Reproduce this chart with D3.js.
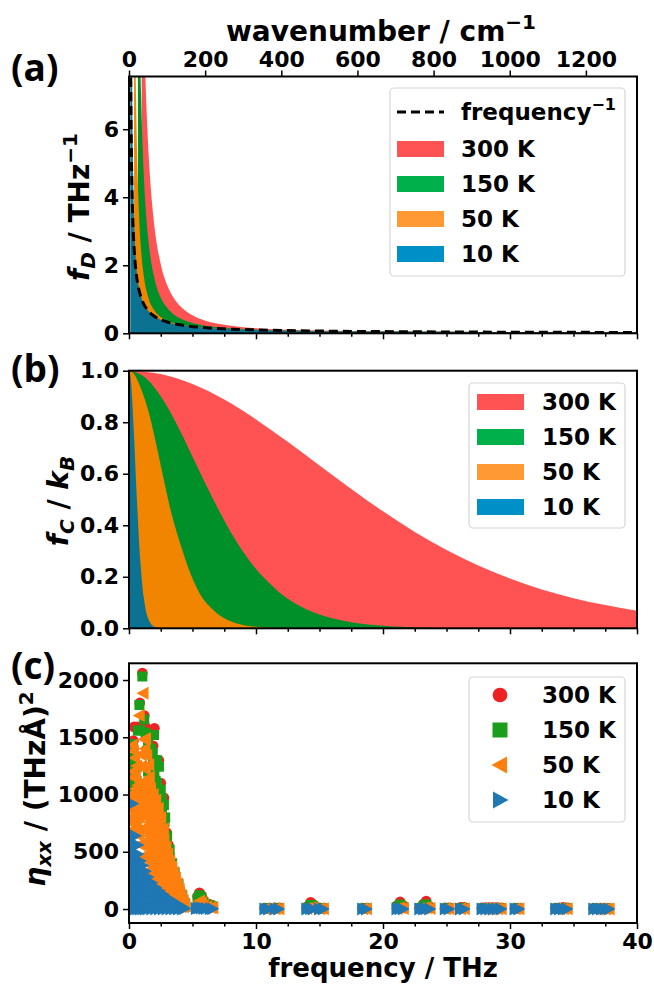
<!DOCTYPE html>
<html>
<head>
<meta charset="utf-8">
<script src="https://cdn.jsdelivr.net/npm/d3@7/dist/d3.min.js"></script>
<style>
body { margin: 0; background: #fff; }
svg { display: block; font-family: "DejaVu Sans", sans-serif; font-weight: bold; }
.axis path, .axis line { stroke: #000; }
.axis text { font-family: "DejaVu Sans", sans-serif; font-weight: bold; fill: #000; }
.panel-tag { font-family: "Open Sans", sans-serif; font-weight: 700; font-size: 37px; }
</style>
</head>
<body>
<div id="chart"></div>
<script>
// temperatures (legend order)
var temps = ["300 K", "150 K", "50 K", "10 K"];

// (a) f_D (THz, THz^-1)
var freqA300 = [1.0, 1.2, 1.3, 1.4, 1.6, 1.8, 2.0, 2.5, 3.0, 3.5, 4, 5, 6, 7, 8, 10, 12.5, 15, 20, 25, 30, 35, 40];
var fD300 = [12.5, 8.71, 7.42, 6.40, 4.91, 3.88, 3.15, 2.03, 1.42, 1.05, 0.81, 0.53, 0.37, 0.28, 0.22, 0.15, 0.105, 0.080, 0.054, 0.042, 0.034, 0.029, 0.025];
var freqA150 = [0.7, 0.85, 0.95, 1.0, 1.2, 1.4, 1.6, 2.0, 2.5, 3.0, 3.5, 4, 5, 6, 7, 8, 10, 12.5, 15, 20, 30, 40];
var fD150 = [12.8, 8.70, 6.98, 6.30, 4.39, 3.24, 2.49, 1.62, 1.05, 0.75, 0.56, 0.44, 0.30, 0.22, 0.18, 0.146, 0.108, 0.083, 0.068, 0.050, 0.033, 0.025];
var freqA50 = [0.4, 0.5, 0.55, 0.6, 0.7, 0.8, 1.0, 1.2, 1.5, 2.0, 2.5, 3.0, 4.0, 5.0, 6, 8, 10, 15, 20, 30, 40];
var fD50 = [13.2, 8.49, 7.05, 5.95, 4.41, 3.41, 2.24, 1.60, 1.08, 0.67, 0.48, 0.37, 0.26, 0.20, 0.168, 0.125, 0.100, 0.067, 0.050, 0.033, 0.025];
var freqA10 = [0.1, 0.15, 0.2, 0.25, 0.3, 0.4, 0.5, 0.6, 0.8, 1.0, 1.5, 2, 3, 4, 6, 10, 20, 40];
var fD10 = [42.5, 19.3, 11.2, 7.45, 5.40, 3.36, 2.40, 1.87, 1.31, 1.02, 0.67, 0.50, 0.333, 0.25, 0.167, 0.10, 0.05, 0.025];
var freqInv = [0.12, 0.15, 0.2, 0.25, 0.3, 0.4, 0.5, 0.7, 1, 1.5, 2, 3, 4, 6, 10, 20, 40];
var fInv = [8.33, 6.67, 5.0, 4.0, 3.33, 2.5, 2.0, 1.43, 1.0, 0.667, 0.5, 0.333, 0.25, 0.167, 0.1, 0.05, 0.025];

// (b) f_C / k_B
var freqB300 = [0, 2.5, 5, 7.5, 10, 12.5, 15, 17.5, 20, 22.5, 25, 27.5, 30, 32.5, 35, 37.5, 40];
var fC300 = [1, 0.987, 0.948, 0.888, 0.811, 0.724, 0.632, 0.541, 0.454, 0.374, 0.304, 0.244, 0.193, 0.151, 0.117, 0.090, 0.068];
var freqB150 = [0, 1, 2, 3, 4, 5, 6, 7, 8, 9, 10, 11, 12, 13, 14, 16, 18, 20, 23, 26, 30, 40];
var fC150 = [1, 0.983, 0.935, 0.861, 0.769, 0.666, 0.563, 0.465, 0.374, 0.296, 0.230, 0.178, 0.133, 0.099, 0.073, 0.039, 0.020, 0.010, 0.0034, 0.0011, 0.0002, 0];
var freqB50 = [0, 0.4, 0.8, 1.25, 1.7, 2.1, 2.5, 2.9, 3.3, 3.75, 4.2, 4.6, 5, 5.4, 5.8, 6.25, 6.7, 7.5, 8.3, 10, 11.7, 13.3, 40];
var fC50 = [1, 0.987, 0.948, 0.888, 0.811, 0.724, 0.632, 0.541, 0.454, 0.374, 0.304, 0.244, 0.193, 0.151, 0.117, 0.090, 0.068, 0.039, 0.022, 0.006, 0.002, 0, 0];
var freqB10 = [0, 0.08, 0.17, 0.25, 0.33, 0.42, 0.5, 0.58, 0.67, 0.75, 0.83, 0.92, 1.0, 1.08, 1.17, 1.25, 1.33, 1.5, 1.67, 2.0, 2.33, 2.67, 40];
var fC10 = [1, 0.987, 0.948, 0.888, 0.811, 0.724, 0.632, 0.541, 0.454, 0.374, 0.304, 0.244, 0.193, 0.151, 0.117, 0.090, 0.068, 0.039, 0.022, 0.006, 0.002, 0, 0];

// (c) eta_xx scatter, [frequency, value] read from the cloud
var eta300 = [[0.35, 1470], [0.4, 1590], [0.7, 1590], [0.85, 1800], [1.05, 2060], [1.2, 1690], [1.3, 1590], [1.9, 1425], [2.0, 1578], [2.35, 1298], [2.5, 1100], [2.75, 972], [2.95, 668], [3.1, 560],
  [5.4, 110], [5.55, 142], [5.7, 118], [5.85, 80], [6.1, 48], [6.4, 38], [6.6, 30], [10.7, 8], [11.0, 8], [11.5, 10], [11.8, 10],
  [14.0, 18], [14.3, 58], [14.5, 40], [15.0, 10], [15.3, 8], [18.4, 8], [18.7, 8], [21.1, 30], [21.35, 62], [21.6, 30],
  [22.9, 12], [23.2, 45], [23.4, 70], [23.7, 20], [24.9, 10], [25.2, 10], [26.1, 14], [26.4, 14], [27.8, 10], [28.1, 12], [28.4, 12], [28.7, 12], [29.0, 12], [29.3, 10],
  [30.4, 8], [30.7, 8], [33.6, 8], [33.9, 10], [34.2, 14], [34.5, 10], [36.6, 6], [36.9, 6], [37.2, 8], [37.5, 6], [37.8, 6]];
var eta150 = [[0.1, 1000], [0.15, 1100], [0.2, 1190], [0.3, 1440], [0.35, 1320], [0.45, 1190], [0.5, 1010], [0.6, 1120], [0.7, 1560], [0.82, 1782], [0.9, 1560], [1.05, 2030], [1.2, 1656], [1.3, 1540], [1.4, 1380],
  [1.6, 1350], [1.7, 1200], [1.87, 1360], [1.97, 1520], [2.1, 1250], [2.2, 1100], [2.36, 1243], [2.5, 1040], [2.6, 960], [2.75, 908], [2.85, 800], [2.95, 617], [3.05, 530],
  [3.2, 450], [3.35, 355], [3.5, 300], [3.65, 250], [3.8, 200], [4.0, 150], [4.15, 110], [4.3, 64], [4.45, 20],
  [1.5, 1200], [1.8, 1100], [2.0, 1000], [2.3, 900], [2.5, 800], [2.7, 700], [2.9, 550], [3.1, 450], [3.3, 300], [3.5, 220], [3.8, 150], [4.1, 80], [4.3, 20],
  [1.9, 1280], [2.0, 1180], [2.1, 1120], [2.3, 1050], [2.4, 980], [2.6, 880], [2.8, 760], [3.0, 640], [3.2, 520], [3.4, 400], [3.6, 320], [3.9, 220], [4.2, 120], [4.4, 50],
  [0.15, 1300], [0.25, 1250], [0.3, 1050], [0.4, 1100], [0.55, 1250], [1.5, 1450], [1.75, 1400], [2.2, 1300],
  [5.4, 90], [5.55, 120], [5.7, 100], [5.85, 60], [6.1, 40], [6.4, 30], [6.6, 22], [10.7, 5], [11.0, 5], [11.5, 6], [11.8, 6],
  [14.0, 10], [14.3, 35], [14.5, 25], [15.0, 6], [15.3, 5], [18.4, 5], [18.7, 5], [21.1, 15], [21.35, 38], [21.6, 15],
  [22.9, 8], [23.2, 25], [23.4, 40], [23.7, 10], [24.9, 6], [25.2, 6], [26.1, 8], [26.4, 8], [27.8, 6], [28.1, 8], [28.4, 8], [28.7, 8], [29.0, 8], [29.3, 6],
  [30.4, 5], [30.7, 5], [33.6, 5], [33.9, 6], [34.2, 8], [34.5, 6], [36.6, 4], [36.9, 4], [37.2, 5], [37.5, 4], [37.8, 4]];
var eta50 = [[0.1, 800], [0.15, 900], [0.25, 1430], [0.3, 1150], [0.4, 1000], [0.5, 1050], [0.6, 1050], [0.7, 1000], [0.8, 1690], [0.9, 1100], [1.0, 1100], [1.1, 1884], [1.2, 1480], [1.3, 1490],
  [1.4, 1050], [1.5, 1000], [1.6, 1150], [1.7, 980], [1.8, 950], [1.9, 900], [2.0, 850], [2.15, 800], [2.3, 760], [2.45, 700], [2.6, 650], [2.75, 600], [2.9, 540], [3.05, 480], [3.2, 420],
  [3.35, 370], [3.5, 320], [3.65, 270], [3.8, 220], [3.95, 170], [4.1, 120], [4.25, 75], [4.4, 30],
  [0.2, 750], [0.4, 850], [0.6, 900], [0.8, 950], [1.0, 980], [1.2, 960], [1.4, 920], [1.6, 880], [1.8, 820], [2.0, 760],
  [0.4, 700], [0.6, 760], [0.8, 800], [1.0, 850], [1.2, 830], [1.4, 800], [1.6, 760], [1.8, 700], [2.0, 660], [2.2, 640], [2.4, 600], [2.6, 560],
  [0.6, 650], [0.8, 660], [1.0, 700], [1.2, 700], [1.4, 680], [1.6, 640], [1.8, 600], [2.0, 560], [2.2, 530], [2.4, 500], [2.6, 470], [2.8, 440], [3.0, 400], [3.2, 350], [3.4, 300],
  [0.9, 560], [1.1, 580], [1.3, 560], [1.5, 540], [1.7, 500], [1.9, 470], [2.1, 440], [2.3, 410], [2.5, 380], [2.7, 350], [2.9, 320], [3.1, 290], [3.3, 250], [3.5, 220], [3.7, 180], [3.9, 140], [4.1, 100], [4.3, 50],
  [1.1, 460], [1.3, 440], [1.5, 420], [1.7, 380], [1.9, 350], [2.1, 320], [2.3, 290], [2.5, 260], [2.7, 240], [2.9, 210], [3.1, 190], [3.3, 160], [3.5, 130], [3.7, 110], [3.9, 80], [4.1, 50], [4.3, 20],
  [1.5, 330], [1.7, 300], [1.9, 260], [2.1, 240], [2.3, 210], [2.5, 190], [2.7, 160], [2.9, 140], [3.1, 120], [3.3, 100], [3.5, 80], [3.7, 60], [3.9, 40], [4.1, 20],
  [0.35, 1380], [0.45, 1320], [1.25, 1400], [1.4, 1340], [1.55, 1260], [0.3, 1200], [0.5, 1150], [1.3, 1220],
  [0.15, 1000], [0.3, 950], [0.5, 980], [0.7, 1080], [0.9, 1000], [1.2, 1080], [1.5, 1100], [1.7, 1050], [1.9, 1000], [2.1, 950], [2.3, 880], [2.5, 800], [2.7, 700],
  [0.2, 880], [0.55, 900], [0.75, 880], [1.1, 900], [1.3, 880], [1.65, 850], [2.2, 720], [2.5, 620], [0.6, 1250], [0.9, 1350], [1.0, 1250],
  [5.4, 50], [5.55, 70], [5.7, 55], [5.85, 30], [6.1, 20], [6.4, 14], [6.6, 10], [10.7, 2], [11.0, 2], [11.5, 3], [11.8, 3],
  [14.0, 4], [14.3, 12], [14.5, 8], [15.0, 3], [15.3, 2], [18.4, 2], [18.7, 2], [21.1, 5], [21.35, 12], [21.6, 5],
  [22.9, 3], [23.2, 8], [23.4, 12], [23.7, 4], [24.9, 2], [25.2, 2], [26.1, 3], [26.4, 3], [27.8, 2], [28.1, 3], [28.4, 3], [28.7, 3], [29.0, 3], [29.3, 2],
  [30.4, 2], [30.7, 2], [33.6, 2], [33.9, 2], [34.2, 3], [34.5, 2], [36.6, 1], [36.9, 1], [37.2, 2], [37.5, 1], [37.8, 1]];
var eta10 = [[0.05, 640], [0.05, 560], [0.05, 480], [0.05, 400], [0.05, 320], [0.05, 240], [0.05, 160], [0.05, 80], [0.05, 0],
  [0.2, 620], [0.2, 540], [0.2, 460], [0.2, 380], [0.2, 300], [0.2, 220], [0.2, 140], [0.2, 60], [0.2, 0],
  [0.3, 920], [0.35, 640], [0.35, 550], [0.35, 450], [0.35, 350], [0.35, 250], [0.35, 150], [0.35, 50],
  [0.5, 640], [0.5, 560], [0.5, 470], [0.5, 390], [0.5, 300], [0.5, 220], [0.5, 140], [0.5, 60], [0.5, 0],
  [0.7, 560], [0.7, 480], [0.7, 400], [0.7, 320], [0.7, 240], [0.7, 160], [0.7, 80], [0.7, 0],
  [0.9, 420], [0.9, 350], [0.9, 280], [0.9, 210], [0.9, 140], [0.9, 70], [0.9, 0],
  [1.1, 380], [1.1, 300], [1.1, 220], [1.1, 140], [1.1, 70], [1.1, 0],
  [1.3, 330], [1.3, 260], [1.3, 190], [1.3, 120], [1.3, 60], [1.3, 0],
  [1.5, 280], [1.5, 210], [1.5, 140], [1.5, 70], [1.5, 0],
  [1.8, 230], [1.8, 170], [1.8, 110], [1.8, 50], [1.8, 0],
  [2.1, 190], [2.1, 130], [2.1, 70], [2.1, 0], [2.4, 160], [2.4, 100], [2.4, 45], [2.4, 0],
  [2.7, 130], [2.7, 80], [2.7, 30], [2.7, 0], [3.0, 100], [3.0, 50], [3.0, 0], [3.3, 80], [3.3, 35], [3.3, 0],
  [3.6, 60], [3.6, 20], [3.6, 0], [3.9, 40], [3.9, 0], [4.2, 20], [4.2, 0], [4.4, 5],
  [5.3, 5], [5.5, 10], [5.7, 8], [5.9, 5], [6.1, 4], [6.4, 3], [6.6, 2], [10.7, 0], [11.0, 0], [11.5, 0], [11.8, 0],
  [14.0, 0], [14.3, 2], [14.5, 1], [15.0, 0], [15.3, 0], [18.4, 0], [18.7, 0], [21.1, 0], [21.35, 2], [21.6, 0],
  [22.9, 0], [23.2, 1], [23.4, 2], [23.7, 0], [24.9, 0], [25.2, 0], [26.1, 0], [26.4, 0], [27.8, 0], [28.1, 0], [28.4, 0], [28.7, 0], [29.0, 0], [29.3, 0],
  [30.4, 0], [30.7, 0], [33.6, 0], [33.9, 0], [34.2, 0], [34.5, 0], [36.6, 0], [36.9, 0], [37.2, 0], [37.5, 0], [37.8, 0]];

// tick values
var freqTicks = [0, 10, 20, 30, 40];
var waveTicks = [0, 200, 400, 600, 800, 1000, 1200];
var fDTicks = [0, 2, 4, 6];
var fCTicks = [0, 0.2, 0.4, 0.6, 0.8, 1.0];
var etaTicks = [0, 500, 1000, 1500, 2000];

var fillColors = ["#ff5252", "#00902a", "#f28500", "#0b7292"];
var legendFill = ["#ff5252", "#00b04a", "#ff9933", "#0090c8"];
var dotColors = ["#ee2222", "#1a9e1a", "#ff7f0e", "#1f77b4"];

var W = 654, H = 984, left = 129, right = 637;
var svg = d3.select("#chart").append("svg").attr("width", W).attr("height", H);

var x = d3.scaleLinear().domain([0, 40]).range([left, right]);
var xWave = d3.scaleLinear().domain([0, 40 * 33.356]).range([left, right]);
var yA = d3.scaleLinear().domain([0, 7.55]).range([333.3, 76.5]);
var yB = d3.scaleLinear().domain([0, 1]).range([628.3, 370.7]);
var yC = d3.scaleLinear().domain([-122, 2146]).range([923, 663.3]);

var minorTicks = d3.range(0, 40.01, 2.5).filter(function(d) { return d % 10 !== 0; });

function clip(id, y) {
    svg.append("clipPath").attr("id", id).append("rect")
        .attr("x", left).attr("y", y.range()[1])
        .attr("width", right - left).attr("height", y.range()[0] - y.range()[1]);
}
clip("clipA", yA); clip("clipB", yB); clip("clipC", yC);

function fills(g, y, series) {
    series.forEach(function(s, i) {
        var pts = d3.zip(s[0], s[1]);
        g.append("path")
            .attr("d", d3.area().curve(d3.curveMonotoneX)
                .x(function(d) { return x(d[0]); })
                .y0(y(0)).y1(function(d) { return y(d[1]); })(pts))
            .attr("fill", fillColors[i]);
    });
}

// ---- panel (a)
var gA = svg.append("g").attr("clip-path", "url(#clipA)");
fills(gA, yA, [[freqA300, fD300], [freqA150, fD150], [freqA50, fD50], [freqA10, fD10]]);
gA.append("path")
    .attr("d", d3.line().curve(d3.curveMonotoneX)
        .x(function(d) { return x(d[0]); }).y(function(d) { return yA(d[1]); })(d3.zip(freqInv, fInv)))
    .attr("fill", "none").attr("stroke", "#000").attr("stroke-width", 3).attr("stroke-dasharray", "9,5");

// ---- panel (b)
var gB = svg.append("g").attr("clip-path", "url(#clipB)");
fills(gB, yB, [[freqB300, fC300], [freqB150, fC150], [freqB50, fC50], [freqB10, fC10]]);

// ---- panel (c)
var gC = svg.append("g").attr("clip-path", "url(#clipC)");
var triR = "M-5.5,-6.5L6.5,0L-5.5,6.5Z", triL = "M5.5,-6.5L-6.5,0L5.5,6.5Z";
function dots(data, i) {
    var sel = gC.append("g").selectAll("path").data(data).enter().append("path")
        .attr("transform", function(d) { return "translate(" + x(d[0]) + "," + yC(d[1]) + ")"; })
        .attr("fill", dotColors[i]);
    if (i === 0) sel.attr("d", d3.symbol(d3.symbolCircle, 90)());
    if (i === 1) sel.attr("d", "M-5,-5H5V5H-5Z");
    if (i === 2) sel.attr("d", triL);
    if (i === 3) sel.attr("d", triR);
}
[eta300, eta150, eta50, eta10].forEach(dots);

// ---- axes
function frame(y) {
    svg.append("rect").attr("x", left).attr("y", y.range()[1])
        .attr("width", right - left).attr("height", y.range()[0] - y.range()[1])
        .attr("fill", "none").attr("stroke", "#000").attr("stroke-width", 2);
}
function bottomAxis(y, labels) {
    var g = svg.append("g").attr("class", "axis").attr("transform", "translate(0," + y.range()[0] + ")");
    g.call(d3.axisBottom(x).tickValues(freqTicks).tickSize(6).tickPadding(4)
        .tickFormat(labels ? d3.format("d") : ""));
    g.append("g").call(d3.axisBottom(x).tickValues(minorTicks).tickSize(3.5).tickFormat(""));
    g.selectAll("path.domain").remove();
    g.selectAll("line").attr("stroke-width", 1.5);
    g.selectAll("text").attr("font-size", 22);
}
function leftAxis(y, ticks, fmt) {
    var g = svg.append("g").attr("class", "axis").attr("transform", "translate(" + left + ",0)");
    g.call(d3.axisLeft(y).tickValues(ticks).tickSize(6).tickPadding(4).tickFormat(fmt));
    g.select("path.domain").remove();
    g.selectAll("line").attr("stroke-width", 1.5);
    g.selectAll("text").attr("font-size", 22);
}
bottomAxis(yA, false); bottomAxis(yB, false); bottomAxis(yC, true);
leftAxis(yA, fDTicks, d3.format("d"));
leftAxis(yB, fCTicks, d3.format(".1f"));
leftAxis(yC, etaTicks, d3.format("d"));
var topAxis = svg.append("g").attr("class", "axis").attr("transform", "translate(0," + yA.range()[1] + ")");
topAxis.call(d3.axisTop(xWave).tickValues(waveTicks).tickSize(6).tickPadding(4).tickFormat(d3.format("d")));
topAxis.select("path.domain").remove();
topAxis.selectAll("line").attr("stroke-width", 1.5);
topAxis.selectAll("text").attr("font-size", 22);
frame(yA); frame(yB); frame(yC);

// ---- axis labels
svg.append("text").attr("x", (left + right) / 2 - 2).attr("y", 41).attr("text-anchor", "middle")
    .attr("font-size", 28)
    .call(function(t) {
        t.append("tspan").text("wavenumber / cm");
        t.append("tspan").attr("dy", -12).attr("font-size", 20).text("\u22121");
    });
svg.append("text").attr("x", (left + right) / 2).attr("y", 977).attr("text-anchor", "middle")
    .attr("font-size", 26).text("frequency / THz");

function yLabel(cx, cy, build) {
    var t = svg.append("text").attr("transform", "translate(" + cx + "," + cy + ") rotate(-90)")
        .attr("text-anchor", "middle").attr("font-size", 28);
    build(t);
}
yLabel(89, 207, function(t) {
    t.append("tspan").attr("font-style", "italic").text("f");
    t.append("tspan").attr("font-style", "italic").attr("font-size", 20).attr("dy", 6).text("D");
    t.append("tspan").attr("dy", -6).text(" / THz");
    t.append("tspan").attr("font-size", 20).attr("dy", -12).text("\u22121");
});
yLabel(68, 501, function(t) {
    t.append("tspan").attr("font-style", "italic").text("f");
    t.append("tspan").attr("font-style", "italic").attr("font-size", 20).attr("dy", 6).text("C");
    t.append("tspan").attr("dy", -6).text(" / ");
    t.append("tspan").attr("font-style", "italic").text("k");
    t.append("tspan").attr("font-style", "italic").attr("font-size", 20).attr("dy", 6).text("B");
});
yLabel(45, 789, function(t) {
    t.append("tspan").attr("font-style", "italic").text("\u03b7");
    t.append("tspan").attr("font-style", "italic").attr("font-size", 20).attr("dy", 6).text("xx");
    t.append("tspan").attr("dy", -6).text(" / (THz\u00c5)");
    t.append("tspan").attr("font-size", 20).attr("dy", -12).text("2");
});

// ---- panel tags
[["(a)", 81], ["(b)", 382], ["(c)", 679]].forEach(function(p) {
    svg.append("text").attr("class", "panel-tag").attr("x", 11).attr("y", p[1]).text(p[0]);
});

// ---- legends
function legendBox(bx, by, bw, bh) {
    svg.append("rect").attr("x", bx).attr("y", by).attr("width", bw).attr("height", bh)
        .attr("rx", 4).attr("fill", "#fff").attr("fill-opacity", 0.8)
        .attr("stroke", "#d6d6d6").attr("stroke-width", 1.2);
}
function legendText(tx, ty, s) {
    return svg.append("text").attr("x", tx).attr("y", ty).attr("dy", "0.36em").attr("font-size", 23).text(s);
}
// (a)
legendBox(390, 88, 235, 188);
svg.append("line").attr("x1", 397).attr("x2", 444).attr("y1", 112).attr("y2", 112)
    .attr("stroke", "#000").attr("stroke-width", 3).attr("stroke-dasharray", "9,5");
legendText(461, 112, "frequency").append("tspan").attr("dy", -10).attr("font-size", 16).text("\u22121");
temps.forEach(function(t, i) {
    var cy = 149 + i * 35;
    svg.append("rect").attr("x", 397).attr("y", cy - 8).attr("width", 47).attr("height", 16).attr("fill", legendFill[i]);
    legendText(461, cy, t);
});
// (b)
legendBox(469, 383, 156, 145);
temps.forEach(function(t, i) {
    var cy = 402 + i * 35;
    svg.append("rect").attr("x", 477).attr("y", cy - 8).attr("width", 47).attr("height", 16).attr("fill", legendFill[i]);
    legendText(542, cy, t);
});
// (c)
legendBox(469, 677, 156, 145);
temps.forEach(function(t, i) {
    var cy = 695 + i * 35;
    var m = svg.append("path").attr("transform", "translate(500," + cy + ")").attr("fill", dotColors[i]);
    if (i === 0) m.attr("d", d3.symbol(d3.symbolCircle, 170)());
    if (i === 1) m.attr("d", "M-7.5,-7.5H7.5V7.5H-7.5Z");
    if (i === 2) m.attr("d", "M7,-8.5L-8.5,0L7,8.5Z");
    if (i === 3) m.attr("d", "M-7,-8.5L8.5,0L-7,8.5Z");
    legendText(542, cy, t);
});
</script>
</body>
</html>
